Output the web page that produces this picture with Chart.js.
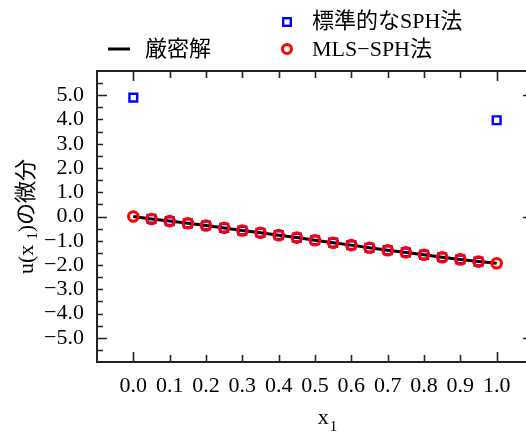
<!DOCTYPE html>
<html>
<head>
<meta charset="utf-8">
<script src="https://cdn.jsdelivr.net/npm/chart.js@4"></script>
<style>
    html, body { margin: 0; padding: 0; width: 526px; height: 433px; overflow: hidden; background: #fff; }
    canvas { display: block; }
</style>
</head>
<body>
<canvas id="derivChart" width="560" height="433"></canvas>
<script>
// --- Data ---
const xValues = [0.0, 0.05, 0.1, 0.15, 0.2, 0.25, 0.3, 0.35, 0.4, 0.45, 0.5,
                 0.55, 0.6, 0.65, 0.7, 0.75, 0.8, 0.85, 0.9, 0.95, 1.0];
const exactValues = [0.0, -0.10, -0.19, -0.28, -0.37, -0.47, -0.58, -0.67, -0.77, -0.87, -0.98,
                     -1.08, -1.18, -1.29, -1.39, -1.48, -1.58, -1.68, -1.77, -1.86, -1.93];
const sphValues = [4.9, -0.10, -0.19, -0.28, -0.37, -0.47, -0.58, -0.67, -0.77, -0.87, -0.98,
                   -1.08, -1.18, -1.29, -1.39, -1.48, -1.58, -1.68, -1.77, -1.86, 3.97];
const mlsValues = [0.0, -0.10, -0.19, -0.28, -0.37, -0.47, -0.58, -0.67, -0.77, -0.87, -0.98,
                   -1.08, -1.18, -1.29, -1.39, -1.48, -1.58, -1.68, -1.77, -1.86, -1.93];
const xTickLabels = [0.0, 0.1, 0.2, 0.3, 0.4, 0.5, 0.6, 0.7, 0.8, 0.9, 1.0];
const yTickLabels = [-5, -4, -3, -2, -1, 0, 1, 2, 3, 4, 5];
const xMajor = [0.0, 1.0];
const yMajor = [-5, 0, 5];
const legendLabels = ['厳密解', '標準的なSPH法', 'MLS\u2212SPH法'];

const FONT = '"Liberation Serif", "Noto Sans CJK JP", serif';

const toPoints = (ys) => xValues.map((x, i) => ({ x: x, y: ys[i] }));
const fmt = (v) => (v < 0 ? '\u2212' : '') + Math.abs(v).toFixed(1);

// --- Box, inward ticks, axis titles, legend ---
const framePlugin = {
    id: 'frame',
    afterDraw(chart) {
        const { ctx, chartArea: a, scales: { x, y } } = chart;
        ctx.save();
        ctx.strokeStyle = '#222';
        ctx.lineWidth = 2;
        ctx.strokeRect(a.left, a.top, a.right - a.left, a.bottom - a.top);

        // x ticks (every 0.1, long at 0 and 1)
        ctx.lineWidth = 1.6;
        for (let k = 0; k <= 10; k++) {
            const v = k / 10;
            const px = Math.round(x.getPixelForValue(v)) + 0.5;
            const len = xMajor.some(m => Math.abs(m - v) < 1e-9) ? 10 : 7;
            ctx.beginPath();
            ctx.moveTo(px, a.bottom); ctx.lineTo(px, a.bottom - len);
            ctx.moveTo(px, a.top); ctx.lineTo(px, a.top + len);
            ctx.stroke();
        }
        // y ticks (every 0.5, long at -5, 0, 5)
        for (let k = -11; k <= 11; k++) {
            const v = k / 2;
            const py = Math.round(y.getPixelForValue(v)) + 0.5;
            const len = yMajor.includes(v) ? 10 : 6;
            ctx.beginPath();
            ctx.moveTo(a.left, py); ctx.lineTo(a.left + len, py);
            ctx.moveTo(a.right, py); ctx.lineTo(a.right - len, py);
            ctx.stroke();
        }

        ctx.fillStyle = '#000';
        ctx.textBaseline = 'alphabetic';
        ctx.textAlign = 'left';

        // x title: x with subscript 1
        ctx.font = '22px ' + FONT;
        const xw = ctx.measureText('x').width;
        ctx.font = '15px ' + FONT;
        const sw = ctx.measureText('1').width;
        const tx = (a.left + a.right) / 2 + 12 - (xw + sw) / 2;
        ctx.font = '22px ' + FONT;
        ctx.fillText('x', tx, 424);
        ctx.font = '15px ' + FONT;
        ctx.fillText('1', tx + xw + 1, 431);

        // y title: u(x 1)の微分, rotated
        ctx.save();
        ctx.translate(33, (a.top + a.bottom) / 2);
        ctx.rotate(-Math.PI / 2);
        const parts = [['u(x ', 22, 0], ['1', 14, 4], [')の微分', 22, 0]];
        let total = 0;
        parts.forEach(p => { ctx.font = p[1] + 'px ' + FONT; total += ctx.measureText(p[0]).width; });
        let cx = -total / 2;
        parts.forEach(p => {
            ctx.font = p[1] + 'px ' + FONT;
            ctx.fillText(p[0], cx, p[2]);
            cx += ctx.measureText(p[0]).width;
        });
        ctx.restore();

        // legend
        const ds = chart.data.datasets;
        ctx.font = '22px ' + FONT;
        ctx.textBaseline = 'middle';
        const row1 = 22, row2 = 49;
        const col1 = a.left + 11, col2 = a.left + 190;

        ctx.strokeStyle = ds[0].borderColor;
        ctx.lineWidth = 3;
        ctx.beginPath();
        ctx.moveTo(col1, row2); ctx.lineTo(col1 + 22, row2);
        ctx.stroke();
        ctx.fillText(legendLabels[0], col1 + 37, row2 + 1);

        ctx.strokeStyle = ds[1].borderColor;
        ctx.lineWidth = 2.4;
        ctx.strokeRect(col2 - 3.8, row1 - 3.8, 7.6, 7.6);
        ctx.fillText(legendLabels[1], col2 + 25, row1);

        ctx.strokeStyle = ds[2].borderColor;
        ctx.lineWidth = 3;
        ctx.beginPath();
        ctx.arc(col2, row2, 4.5, 0, Math.PI * 2);
        ctx.stroke();
        ctx.fillText(legendLabels[2], col2 + 25, row2 + 1);
        ctx.restore();
    }
};

new Chart(document.getElementById('derivChart'), {
    type: 'scatter',
    data: {
        datasets: [
            {
                label: legendLabels[0],
                data: toPoints(exactValues),
                showLine: true,
                borderColor: '#000',
                borderWidth: 3,
                pointRadius: 0,
                order: 3
            },
            {
                label: legendLabels[1],
                data: toPoints(sphValues),
                showLine: false,
                pointStyle: 'rect',
                pointRadius: 5.5,
                borderColor: '#0000ff',
                backgroundColor: 'rgba(0,0,0,0)',
                borderWidth: 2.4,
                order: 2
            },
            {
                label: legendLabels[2],
                data: toPoints(mlsValues),
                showLine: false,
                pointStyle: 'circle',
                pointRadius: 4.8,
                borderColor: '#ff0000',
                backgroundColor: 'rgba(0,0,0,0)',
                borderWidth: 3,
                order: 1
            }
        ]
    },
    options: {
        responsive: false,
        animation: false,
        layout: { padding: { top: 71, right: 27, left: 0, bottom: 0 } },
        plugins: { legend: { display: false }, tooltip: { enabled: false } },
        scales: {
            x: {
                type: 'linear',
                min: -0.1,
                max: 1.1,
                grid: { display: false },
                border: { display: false },
                afterBuildTicks: s => { s.ticks = xTickLabels.map(v => ({ value: v })); },
                afterFit: s => { s.height = 71; },
                ticks: {
                    autoSkip: false,
                    maxRotation: 0,
                    padding: 3,
                    color: '#000',
                    font: { family: FONT, size: 22 },
                    callback: v => fmt(v)
                }
            },
            y: {
                min: -6,
                max: 6,
                grid: { display: false },
                border: { display: false },
                afterBuildTicks: s => { s.ticks = yTickLabels.map(v => ({ value: v })); },
                afterFit: s => { s.width = 97; },
                ticks: {
                    autoSkip: false,
                    padding: 5,
                    color: '#000',
                    font: { family: FONT, size: 22 },
                    callback: v => fmt(v)
                }
            }
        }
    },
    plugins: [framePlugin]
});
</script>
</body>
</html>
